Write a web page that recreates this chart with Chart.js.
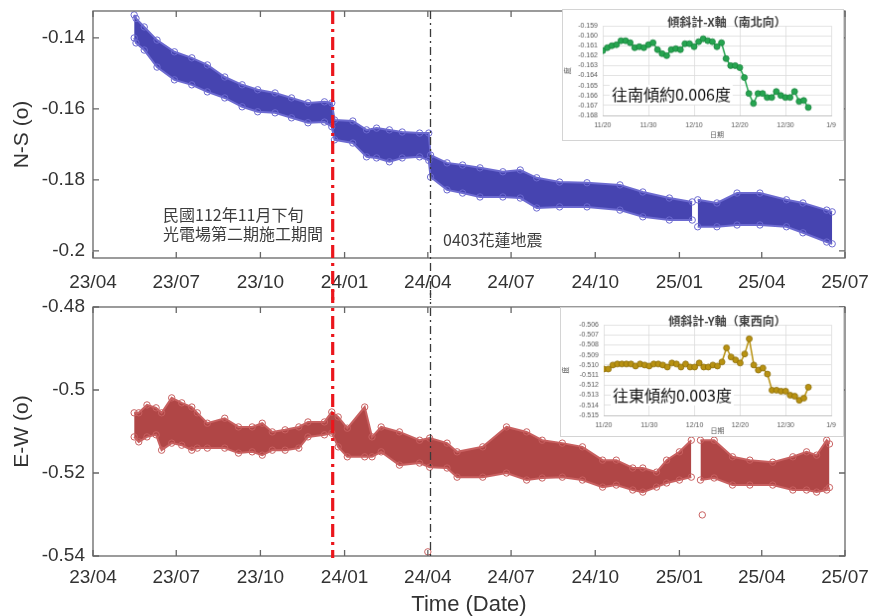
<!DOCTYPE html>
<html>
<head>
<meta charset="utf-8">
<script src="https://cdn.jsdelivr.net/npm/chart.js@4.4.1/dist/chart.umd.min.js"></script>
<style>
  body { margin: 0; background: #fff; }
  #wrap { position: relative; width: 872px; height: 616px; overflow: hidden; }
  canvas { position: absolute; }
  #ns { left: 0; top: 0; }
  #ew { left: 0; top: 290px; }
  #insetX { left: 562px; top: 9px; background: #fff; border: 1px solid #d4d4d4; }
  #insetY { left: 560px; top: 307px; background: #fff; border: 1px solid #d4d4d4; }
</style>
</head>
<body>
<div id="wrap">
  <canvas id="ns" width="872" height="300"></canvas>
  <canvas id="ew" width="872" height="326"></canvas>
  <canvas id="insetX" width="282" height="132"></canvas>
  <canvas id="insetY" width="284" height="130"></canvas>
</div>
<script>
// x axis: dates, quarterly ticks
const startDate = '2023-04-01';
const endDate = '2025-07-01';
const tickDates = ['2023-04-01','2023-07-01','2023-10-01','2024-01-01','2024-04-01','2024-07-01','2024-10-01','2025-01-01','2025-04-01','2025-07-01'];
const tickLabels = ['23/04','23/07','23/10','24/01','24/04','24/07','24/10','25/01','25/04','25/07'];

const nsTicks = [-0.2, -0.18, -0.16, -0.14];
const ewTicks = [-0.54, -0.52, -0.5, -0.48];

const constructionDate = '2023-12-19';
const quakeDate = '2024-04-03';

// N-S band, upper / lower edge of the point cloud (null = data gap)
const nsDates = ['2023-05-16','2023-05-18','2023-05-27','2023-06-10','2023-06-29','2023-07-18','2023-08-04','2023-08-23','2023-09-11','2023-09-28',
  '2023-10-17','2023-11-04','2023-11-22','2023-12-10','2023-12-18','2023-12-21','2024-01-10','2024-01-25','2024-02-05','2024-02-19',
  '2024-03-04','2024-03-23','2024-04-02','2024-04-04','2024-04-22','2024-05-09','2024-05-28','2024-06-22','2024-07-11','2024-07-29',
  '2024-08-23','2024-09-22','2024-10-28','2024-11-22','2024-12-21','2025-01-15','2025-01-18','2025-01-21','2025-02-11','2025-03-05',
  '2025-03-30','2025-04-28','2025-05-16','2025-06-11','2025-06-17'];
const nsUpper = [-0.1335,-0.1345,-0.1369,-0.1406,-0.1439,-0.1456,-0.1476,-0.1510,-0.1532,-0.1546,
  -0.1555,-0.1569,-0.1583,-0.1580,-0.1583,-0.1631,-0.1634,-0.1659,-0.1654,-0.1659,
  -0.1665,-0.1668,-0.1668,-0.1730,-0.1752,-0.1758,-0.1766,-0.1777,-0.1772,-0.1794,
  -0.1806,-0.1808,-0.1814,-0.1834,-0.1851,-0.1862,null,-0.1856,-0.1865,-0.1837,
  -0.1837,-0.1856,-0.1865,-0.1885,-0.1890];
const nsLower = [-0.1400,-0.1414,-0.1434,-0.1482,-0.1518,-0.1532,-0.1552,-0.1569,-0.1594,-0.1608,
  -0.1611,-0.1625,-0.1639,-0.1637,-0.1650,-0.1687,-0.1696,-0.1735,-0.1738,-0.1749,
  -0.1738,-0.1735,-0.1745,-0.1792,-0.1828,-0.1837,-0.1848,-0.1848,-0.1851,-0.1879,
  -0.1876,-0.1876,-0.1885,-0.1904,-0.1913,-0.1913,null,-0.1932,-0.1932,-0.1927,
  -0.1927,-0.1932,-0.1949,-0.1975,-0.1980];

// E-W band
const ewDates = ['2023-05-16','2023-05-21','2023-05-30','2023-06-09','2023-06-15','2023-06-26','2023-07-07','2023-07-18','2023-07-24','2023-08-04',
  '2023-08-23','2023-09-07','2023-09-22','2023-10-03','2023-10-14','2023-10-28','2023-11-12','2023-11-22','2023-12-10','2023-12-18',
  '2023-12-25','2024-01-04','2024-01-23','2024-01-31','2024-02-10','2024-03-01','2024-03-23','2024-04-03','2024-04-22','2024-05-03',
  '2024-05-31','2024-06-26','2024-07-18','2024-08-04','2024-08-26','2024-09-17','2024-10-09','2024-10-24','2024-11-11','2024-11-22',
  '2024-12-07','2024-12-18','2025-01-01','2025-01-14','2025-01-18','2025-01-24','2025-02-08','2025-02-28','2025-03-19','2025-04-13',
  '2025-05-05','2025-05-20','2025-05-31','2025-06-11','2025-06-14'];
const ewUpper = [-0.5055,-0.5055,-0.5036,-0.5043,-0.5055,-0.5019,-0.5031,-0.5041,-0.5055,-0.5080,
  -0.5068,-0.5089,-0.5089,-0.5080,-0.5101,-0.5096,-0.5089,-0.5077,-0.5077,-0.5053,
  -0.5065,-0.5092,-0.5041,-0.5113,-0.5089,-0.5101,-0.5121,-0.5116,-0.5128,-0.5149,
  -0.5137,-0.5089,-0.5101,-0.5121,-0.5128,-0.5137,-0.5169,-0.5169,-0.5188,-0.5188,
  -0.5198,-0.5169,-0.5149,-0.5121,null,-0.5121,-0.5121,-0.5161,-0.5169,-0.5174,
  -0.5161,-0.5149,-0.5157,-0.5121,-0.5130];
const ewLower = [-0.5113,-0.5125,-0.5113,-0.5108,-0.5145,-0.5128,-0.5133,-0.5145,-0.5140,-0.5140,
  -0.5140,-0.5152,-0.5149,-0.5157,-0.5145,-0.5145,-0.5140,-0.5113,-0.5108,-0.5104,
  -0.5137,-0.5161,-0.5161,-0.5161,-0.5149,-0.5181,-0.5176,-0.5186,-0.5188,-0.5210,
  -0.5210,-0.5200,-0.5217,-0.5212,-0.5210,-0.5217,-0.5234,-0.5229,-0.5241,-0.5246,
  -0.5234,-0.5224,-0.5217,-0.5210,null,-0.5217,-0.5212,-0.5229,-0.5229,-0.5229,
  -0.5241,-0.5241,-0.5246,-0.5241,-0.5235];
const ewOutDates = ['2024-04-01','2025-01-26'];
const ewOutVals = [-0.5390,-0.5301];

// insets: daily values from 2023-11-20
const insetStart = '2023-11-20';
const insetXTicks = [0, 10, 20, 30, 40, 50];
const insetXVals = [-0.1615,-0.1612,-0.1610,-0.1609,-0.1605,-0.1605,-0.1607,-0.1612,-0.1611,-0.1612,
  -0.1609,-0.1607,-0.1614,-0.1618,-0.1620,-0.1614,-0.1613,-0.1614,-0.1608,-0.1608,
  -0.1611,-0.1606,-0.1603,-0.1605,-0.1606,-0.1611,-0.1607,-0.1623,-0.1630,-0.1630,
  -0.1632,-0.1642,-0.1658,-0.1668,-0.1658,-0.1658,-0.1662,-0.1662,-0.1656,-0.1660,
  -0.1662,-0.1662,-0.1656,-0.1666,-0.1665,-0.1672];
const insetYVals = [-0.5104,-0.5104,-0.5100,-0.5099,-0.5099,-0.5099,-0.5099,-0.5101,-0.5099,-0.5100,
  -0.5101,-0.5099,-0.5099,-0.5100,-0.5102,-0.5098,-0.5099,-0.5102,-0.5099,-0.5102,
  -0.5102,-0.5098,-0.5102,-0.5102,-0.5100,-0.5101,-0.5097,-0.5083,-0.5092,-0.5095,
  -0.5098,-0.5089,-0.5074,-0.5100,-0.5105,-0.5103,-0.5109,-0.5125,-0.5125,-0.5126,
  -0.5126,-0.5130,-0.5131,-0.5135,-0.5133,-0.5122];

const FONT = '"Liberation Sans", Arial, sans-serif';
const CJK = '"Noto Sans CJK TC", "Noto Sans CJK SC", sans-serif';

function days(d, from) {
  return (Date.parse(d) - Date.parse(from || startDate)) / 86400000;
}
function pts(dates, vals) {
  return dates.map((d, i) => ({ x: days(d), y: vals[i] }));
}

// matlab style box with inward ticks
const boxPlugin = {
  id: 'box',
  afterDatasetsDraw(chart) {
    const { ctx, chartArea: a, scales: { x, y } } = chart;
    ctx.save();
    ctx.strokeStyle = '#666';
    ctx.lineWidth = 1.3;
    ctx.strokeRect(a.left, a.top, a.width, a.height);
    ctx.beginPath();
    x.ticks.forEach(t => {
      const p = x.getPixelForValue(t.value);
      ctx.moveTo(p, a.bottom); ctx.lineTo(p, a.bottom - 6);
      ctx.moveTo(p, a.top); ctx.lineTo(p, a.top + 6);
    });
    y.ticks.forEach(t => {
      const p = y.getPixelForValue(t.value);
      ctx.moveTo(a.left, p); ctx.lineTo(a.left + 6, p);
      ctx.moveTo(a.right, p); ctx.lineTo(a.right - 6, p);
    });
    ctx.stroke();
    ctx.restore();
  }
};

// the two event lines, run through both panels
const markLines = {
  id: 'markLines',
  afterDraw(chart, args, opts) {
    const { ctx, scales: { x } } = chart;
    const y0 = opts.top ? 0 : chart.chartArea.top;
    const y1 = opts.top ? chart.chartArea.bottom + 2 : chart.height;
    ctx.save();
    ctx.lineCap = 'butt';
    let p = Math.round(x.getPixelForValue(days(quakeDate))) + 0.5;
    ctx.strokeStyle = '#3a3a3a';
    ctx.lineWidth = 1.3;
    ctx.setLineDash([8, 4, 2, 4]);
    ctx.beginPath(); ctx.moveTo(p, y0); ctx.lineTo(p, y1); ctx.stroke();
    p = x.getPixelForValue(days(constructionDate));
    ctx.strokeStyle = 'rgb(235,22,28)';
    ctx.lineWidth = 3.2;
    ctx.setLineDash([13, 5, 3, 5]);
    ctx.beginPath(); ctx.moveTo(p, y0); ctx.lineTo(p, y1); ctx.stroke();
    ctx.restore();
  }
};

const notes = {
  id: 'notes',
  afterDraw(chart, args, opts) {
    if (!opts.items) return;
    const ctx = chart.ctx;
    ctx.save();
    ctx.font = '16px ' + CJK;
    ctx.fillStyle = '#3c3c3c';
    ctx.textBaseline = 'middle';
    opts.items.forEach(n => ctx.fillText(n[0], n[1], n[2]));
    ctx.restore();
  }
};

function band(dates, upper, lower, edge, fillCol) {
  const common = {
    borderColor: edge, borderWidth: 2, tension: 0, spanGaps: false,
    pointRadius: 3.2, pointBorderWidth: 1, pointBorderColor: edge,
    pointBackgroundColor: 'rgba(0,0,0,0)'
  };
  return [
    Object.assign({ data: pts(dates, upper), fill: false }, common),
    Object.assign({ data: pts(dates, lower), fill: '-1', backgroundColor: fillCol }, common)
  ];
}

function mainChart(id, cfg) {
  return new Chart(document.getElementById(id), {
    type: 'line',
    data: { datasets: cfg.datasets },
    plugins: [boxPlugin, markLines, notes],
    options: {
      responsive: false,
      animation: false,
      events: [],
      layout: { padding: { left: 0, right: 27, top: cfg.padTop, bottom: 0 } },
      plugins: {
        legend: { display: false },
        tooltip: { enabled: false },
        markLines: { top: cfg.lineFromTop },
        notes: { items: cfg.notes }
      },
      scales: {
        x: {
          type: 'linear',
          min: days(startDate), max: days(endDate),
          afterBuildTicks: s => { s.ticks = tickDates.map(d => ({ value: days(d) })); },
          afterFit: s => { s.height = cfg.xHeight; s.paddingLeft = 0; s.paddingRight = 0; },
          grid: { display: false, drawTicks: false },
          border: { display: false },
          ticks: {
            autoSkip: false, maxRotation: 0, padding: cfg.xPad, color: '#333',
            font: { family: FONT, size: 19 },
            callback: (v, i) => tickLabels[i]
          },
          title: {
            display: !!cfg.xTitle, text: cfg.xTitle, color: '#333',
            font: { family: FONT, size: 22, lineHeight: 1 }, padding: 0
          }
        },
        y: {
          type: 'linear',
          min: cfg.yMin, max: cfg.yMax,
          afterBuildTicks: s => { s.ticks = cfg.yTicks.map(v => ({ value: v })); },
          afterFit: s => { s.width = 93; s.paddingTop = 0; s.paddingBottom = 0; },
          grid: { display: false, drawTicks: false },
          border: { display: false },
          ticks: { padding: 8, color: '#333', font: { family: FONT, size: 19 }, callback: v => String(v) },
          title: {
            display: true, text: cfg.yTitle, color: '#333',
            font: { family: FONT, size: 21, lineHeight: 1 }, padding: { top: 12, bottom: 0 }
          }
        }
      }
    }
  });
}

mainChart('ns', {
  datasets: band(nsDates, nsUpper, nsLower, 'rgb(108,106,208)', 'rgb(70,68,176)'),
  padTop: 11, xHeight: 42, xPad: 13,
  yMin: -0.2020, yMax: -0.1324, yTicks: nsTicks, yTitle: 'N-S (o)',
  lineFromTop: false,
  notes: [['民國112年11月下旬', 163, 215], ['光電場第二期施工期間', 163, 234], ['0403花蓮地震', 443, 240]]
});

const ewSets = band(ewDates, ewUpper, ewLower, 'rgb(200,96,96)', 'rgb(176,70,70)');
ewSets.push({
  data: pts(ewOutDates, ewOutVals), showLine: false,
  pointRadius: 3.2, pointBorderWidth: 1, pointBorderColor: 'rgb(200,96,96)',
  pointBackgroundColor: 'rgba(0,0,0,0)'
});
mainChart('ew', {
  datasets: ewSets,
  padTop: 17, xHeight: 60, xPad: 10,
  yMin: -0.54, yMax: -0.48, yTicks: ewTicks, yTitle: 'E-W (o)', xTitle: 'Time (Date)',
  lineFromTop: true
});

// little excel-like charts in the corners
const insetText = {
  id: 'insetText',
  afterDraw(chart, args, opts) {
    const { ctx, chartArea: a } = chart;
    ctx.save();
    ctx.textBaseline = 'middle';
    ctx.textAlign = 'center';
    ctx.font = 'bold 12px ' + CJK;
    ctx.fillStyle = '#404040';
    ctx.fillText(opts.title, (a.left + a.right) / 2 + 10, a.top - 4);
    ctx.textAlign = 'left';
    ctx.font = '16px ' + CJK;
    const w = ctx.measureText(opts.note).width;
    ctx.fillStyle = '#fff';
    ctx.fillRect(a.left + 7, opts.noteY - 10, w + 4, 20);
    ctx.fillStyle = '#111';
    ctx.fillText(opts.note, a.left + 9, opts.noteY);
    ctx.restore();
  }
};

function insetChart(id, vals, cfg) {
  const data = vals.map((v, i) => ({ x: i, y: v }));
  return new Chart(document.getElementById(id), {
    type: 'line',
    data: { datasets: [{
      data: data, borderColor: cfg.color, borderWidth: 1.5, tension: 0,
      pointRadius: 3, pointBackgroundColor: cfg.color, pointBorderColor: cfg.edge, pointBorderWidth: 0.8
    }] },
    plugins: [insetText],
    options: {
      responsive: false,
      animation: false,
      events: [],
      layout: { padding: { left: 0, right: 12, top: cfg.padTop, bottom: 0 } },
      plugins: {
        legend: { display: false },
        tooltip: { enabled: false },
        insetText: { title: cfg.title, note: cfg.note, noteY: cfg.noteY }
      },
      scales: {
        x: {
          type: 'linear', min: 0, max: 50,
          afterBuildTicks: s => { s.ticks = insetXTicks.map(v => ({ value: v })); },
          afterFit: s => { s.height = cfg.xHeight; s.paddingLeft = 0; s.paddingRight = 0; },
          grid: { color: '#dcdcdc', lineWidth: 0.8, drawTicks: false },
          border: { color: '#bdbdbd' },
          ticks: {
            autoSkip: false, maxRotation: 0, padding: 6, color: '#595959', font: { family: FONT, size: 7 },
            callback: v => {
              const d = new Date(Date.parse(insetStart) + v * 86400000);
              return (d.getUTCMonth() + 1) + '/' + d.getUTCDate();
            }
          },
          title: { display: true, text: '日期', color: '#595959', font: { family: CJK, size: 7 }, padding: { top: 0, bottom: 1 } }
        },
        y: {
          type: 'linear', min: cfg.yMin, max: cfg.yMax,
          afterFit: s => { s.width = cfg.yWidth; s.paddingTop = 0; s.paddingBottom = 0; },
          grid: { color: '#dcdcdc', lineWidth: 0.8, drawTicks: false },
          border: { display: false },
          ticks: { autoSkip: false, stepSize: 0.001, padding: 5, color: '#595959', font: { family: FONT, size: 7 }, callback: v => v.toFixed(3) },
          title: { display: true, text: '度', color: '#595959', font: { family: CJK, size: 7 }, padding: 0 }
        }
      }
    }
  });
}

insetChart('insetX', insetXVals, {
  color: 'rgb(38,165,80)', edge: 'rgb(24,130,60)',
  yMin: -0.168, yMax: -0.159, padTop: 16, yWidth: 40, xHeight: 25,
  title: '傾斜計-X軸（南北向）', note: '往南傾約0.006度', noteY: 86
});
insetChart('insetY', insetYVals, {
  color: 'rgb(184,146,18)', edge: 'rgb(140,108,8)',
  yMin: -0.515, yMax: -0.506, padTop: 17, yWidth: 43, xHeight: 21,
  title: '傾斜計-Y軸（東西向）', note: '往東傾約0.003度', noteY: 89
});
</script>
</body>
</html>
